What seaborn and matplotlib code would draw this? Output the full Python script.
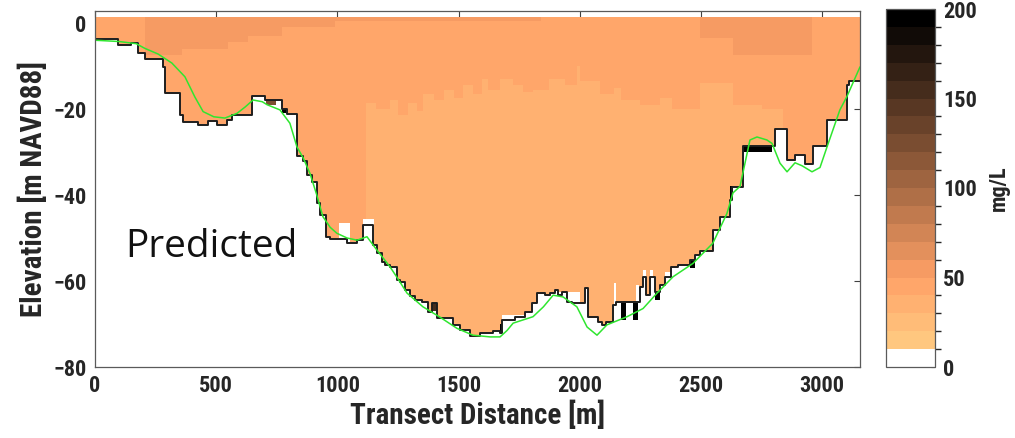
import numpy as np
import matplotlib
matplotlib.use("Agg")
import matplotlib.pyplot as plt
from matplotlib import font_manager
from matplotlib.colors import ListedColormap, BoundaryNorm
import pandas as pd
import seaborn as sns

# ---------------------------------------------------------------------------
# Bed profile from the ADCP bins (step line): left edge of each step [m], elevation [m]
bed_x = [0, 95, 148, 178, 206, 280, 290, 350, 362, 425, 466, 503, 545, 565, 648,
         703, 771, 792, 832, 860, 876, 894, 914, 928, 955, 969, 1038, 1079, 1107,
         1148, 1162, 1183, 1197, 1217, 1245, 1258, 1279, 1300, 1320, 1348, 1375,
         1389, 1409, 1478, 1506, 1547, 1588, 1643, 1671, 1678, 1733, 1774, 1802,
         1823, 1857, 1878, 1898, 1912, 1926, 1947, 1967, 2001, 2021, 2035, 2075,
         2090, 2110, 2138, 2151, 2247, 2261, 2275, 2289, 2310, 2330, 2351, 2378,
         2406, 2454, 2475, 2496, 2549, 2578, 2620, 2627, 2673, 2805, 2855, 2888,
         2929, 2962, 3020, 3102, 3110]
bed_z = [-3.6, -5.0, -4.6, -7.0, -8.4, -10.2, -16.3, -21.4, -23.0, -23.7, -22.8,
         -23.6, -22.6, -21.4, -17.0, -17.9, -19.9, -21.1, -31.0, -32.2, -35.3,
         -36.9, -41.9, -44.7, -49.7, -50.2, -51.1, -50.5, -47.0, -51.6, -53.6,
         -55.5, -56.3, -56.7, -59.8, -60.2, -62.1, -63.6, -64.4, -64.8, -67.1,
         -65.1, -68.7, -70.2, -71.4, -72.9, -72.2, -71.6, -72.0, -69.1, -68.3,
         -67.1, -65.2, -62.9, -63.3, -62.8, -62.1, -63.3, -62.5, -64.8, -65.2,
         -65.0, -61.7, -68.3, -69.5, -70.2, -69.5, -65.6, -64.8, -61.3, -59.0,
         -63.3, -59.0, -62.5, -60.9, -59.0, -56.8, -56.3, -55.1, -54.0, -53.0,
         -48.1, -45.0, -41.2, -38.1, -28.6, -24.7, -31.9, -30.7, -32.8, -28.6,
         -22.6, -14.4, -13.4]
transect_end = 3160

# Surveyed bathymetry (green line)
survey_x = [0, 100, 170, 206, 260, 317, 371, 412, 446, 490, 536, 586, 620, 652,
            690, 710, 763, 804, 833, 860, 887, 915, 940, 970, 998, 1040, 1081,
            1122, 1163, 1217, 1250, 1287, 1353, 1423, 1493, 1559, 1630, 1671,
            1700, 1725, 1807, 1850, 1890, 1931, 1988, 2030, 2071, 2112, 2195,
            2261, 2319, 2385, 2467, 2549, 2607, 2632, 2661, 2702, 2731, 2772,
            2793, 2826, 2855, 2888, 2917, 2958, 2991, 3020, 3073, 3102, 3156]
survey_z = [-4.0, -4.3, -4.8, -5.9, -7.2, -9.3, -12.5, -17.2, -20.6, -21.8, -22.1,
            -21.0, -19.5, -17.9, -18.3, -19.0, -20.2, -23.3, -28.8, -31.5, -35.0,
            -40.0, -45.0, -47.5, -48.9, -50.0, -50.5, -49.7, -52.8, -56.7, -59.5,
            -62.8, -66.0, -68.4, -71.0, -72.6, -73.0, -73.0, -71.5, -69.8, -68.3,
            -66.0, -63.3, -63.7, -66.0, -70.7, -72.6, -70.2, -68.3, -66.4, -62.8,
            -59.0, -55.9, -51.2, -44.3, -39.5, -38.0, -27.2, -26.5, -27.2, -28.0,
            -32.6, -34.6, -32.5, -33.2, -34.6, -33.6, -28.8, -20.2, -17.1, -10.2]

# Predicted suspended sediment concentration [mg/L] in three layers
surface_z = 1.5
conc_upper = 57
conc_middle = 45
conc_lower = 35

# bottom of the upper (turbid) layer; values above the surface mean "absent"
upper_x = [0, 206, 360, 550, 632, 771, 990, 1840, 2496, 2632, 2962]
upper_bottom = [5, -7.5, -6.0, -4.4, -2.9, -0.9, 0.7, 5, -3.7, -7.5, 5]

# top of the lower (clearer) layer; -999 means "absent"
lower_x = [0, 1120, 1160, 1217, 1250, 1290, 1330, 1353, 1400, 1440, 1480, 1520,
           1560, 1597, 1620, 1671, 1725, 1765, 1807, 1877, 1940, 1988, 2000,
           2083, 2140, 2170, 2248, 2330, 2380, 2496, 2632, 2750, 2838]
lower_top = [-999, -18.6, -20.0, -18.0, -21.5, -18.5, -20.5, -16.5, -18.0, -15.5,
             -17.5, -14.5, -16.5, -13.0, -15.5, -13.0, -14.4, -16.0, -15.3, -13.0,
             -14.5, -9.8, -13.5, -16.7, -15.0, -18.0, -19.0, -17.5, -20.0, -14.0,
             -19.0, -20.0, -999]

# near-bed bins with high concentration
hot_x0 = [703, 771, 1389, 1671, 2172, 2220, 2310, 2454, 2620, 2673]
hot_x1 = [744, 792, 1409, 1678, 2190, 2238, 2330, 2475, 2632, 2797]
hot_top = [-17.9, -19.9, -65.1, -70.0, -65.0, -65.0, -62.5, -55.1, -38.1, -28.6]
hot_bot = [-19.0, -21.1, -67.0, -72.0, -69.0, -69.0, -64.5, -57.0, -41.2, -30.0]
hot_val = [125, 200, 150, 200, 200, 200, 200, 200, 200, 200]

# columns where valid bins stop above the bed
gap_x0 = [1003, 1107, 1678, 1878, 2138, 2230, 2261, 2289, 2351, 2496]
gap_x1 = [1052, 1148, 1802, 2001, 2151, 2245, 2275, 2300, 2378, 2530]
gap_bottom = [-46.5, -45.3, -67.8, -62.5, -60.5, -61.0, -57.5, -57.5, -57.8, -52.8]

cbar_ticks = [0, 50, 100, 150, 200]
levels = np.arange(0, 201, 10)

# ---------------------------------------------------------------------------
def pick_font(candidates):
    names = {f.name for f in font_manager.fontManager.ttflist}
    return [c for c in candidates if c in names] + ["DejaVu Sans"]


sns.set_theme(style="white")
label_font = pick_font(["Liberation Sans Narrow", "Roboto Condensed", "Liberation Sans"])
plt.rcParams["font.family"] = label_font
ink = "#262626"


def step_lookup(xs, vals, x):
    idx = np.searchsorted(np.asarray(xs, float), x, side="right") - 1
    return np.asarray(vals, float)[np.clip(idx, 0, len(vals) - 1)]


dx, dz = 5.0, 0.5
x_edges = np.arange(0, transect_end + dx / 2, dx)
z_edges = np.arange(-80.0, surface_z + dz / 2, dz)
xc = 0.5 * (x_edges[:-1] + x_edges[1:])
zc = 0.5 * (z_edges[:-1] + z_edges[1:])
Z, X = np.meshgrid(zc, xc, indexing="ij")

bed_c = step_lookup(bed_x, bed_z, xc)
upper_c = step_lookup(upper_x, upper_bottom, xc)
lower_c = step_lookup(lower_x, lower_top, xc)

conc = np.full(Z.shape, float(conc_middle))
conc[Z > upper_c[None, :]] = conc_upper
conc[Z < lower_c[None, :]] = conc_lower
conc[Z < bed_c[None, :]] = np.nan
for x0, x1, zb in zip(gap_x0, gap_x1, gap_bottom):
    conc[(X >= x0) & (X < x1) & (Z < zb)] = np.nan
for x0, x1, zt, zb, v in zip(hot_x0, hot_x1, hot_top, hot_bot, hot_val):
    conc[(X >= x0) & (X < x1) & (Z <= zt) & (Z >= zb)] = v

# colormap: white for the lowest class, reversed copper above it
copper = plt.get_cmap("copper")
cmap = ListedColormap(["#ffffff"] + [copper(v) for v in np.linspace(1, 0, 19)])
norm = BoundaryNorm(levels, cmap.N)

fig = plt.figure(figsize=(10.15, 4.38), dpi=100)
ax = fig.add_axes([95 / 1015, 1 - 367 / 438, (860 - 95) / 1015, (367 - 11) / 438])
cax = fig.add_axes([886 / 1015, 1 - 367 / 438, 49 / 1015, (367 - 9) / 438])

mesh = ax.pcolormesh(x_edges, z_edges, np.ma.masked_invalid(conc), cmap=cmap,
                     norm=norm, shading="flat", rasterized=True)

bed_df = pd.DataFrame({"x": bed_x + [transect_end], "z": bed_z + [bed_z[-1]]})
sns.lineplot(data=bed_df, x="x", y="z", ax=ax, color="#1e1e1e", lw=1.4,
             drawstyle="steps-post", estimator=None, sort=False)
survey_df = pd.DataFrame({"x": survey_x, "z": survey_z})
sns.lineplot(data=survey_df, x="x", y="z", ax=ax, color="#2fe62f", lw=1.1,
             estimator=None, sort=False)

ax.text(124, -54.3, "Predicted", fontsize=28, color="#111111", va="baseline",
        family=pick_font(["Open Sans", "Noto Sans"]))

ax.set_xlim(0, 3156)
ax.set_ylim(-80, 2.8)
ax.set_xticks([0, 500, 1000, 1500, 2000, 2500, 3000])
ax.set_yticks([-80, -60, -40, -20, 0])
ax.set_xlabel("Transect Distance [m]", fontsize=21, fontweight="bold", color=ink, labelpad=2)
ax.set_ylabel("Elevation [m NAVD88]", fontsize=21, fontweight="bold", color=ink, labelpad=4)
ax.tick_params(axis="both", which="both", direction="in", length=4, width=0.8,
               colors="#404040", labelcolor=ink, labelsize=16, top=True, right=True,
               pad=6)
for lab in ax.get_xticklabels() + ax.get_yticklabels():
    lab.set_fontweight("bold")
for sp in ax.spines.values():
    sp.set_visible(True)
    sp.set_color("#5a5a5a")
    sp.set_linewidth(0.9)
ax.set_facecolor("white")

cbar = fig.colorbar(mesh, cax=cax, ticks=cbar_ticks, spacing="proportional")
cbar.outline.set_edgecolor("#5a5a5a")
cbar.outline.set_linewidth(0.9)
cax.tick_params(direction="in", length=3, width=0.8, colors="#404040",
                labelcolor=ink, labelsize=16, pad=6)
for lab in cax.get_yticklabels():
    lab.set_fontweight("bold")
cbar.set_label("mg/L", fontsize=16, fontweight="bold", color=ink, labelpad=8)

fig.savefig("out.png", dpi=100, facecolor="white")
